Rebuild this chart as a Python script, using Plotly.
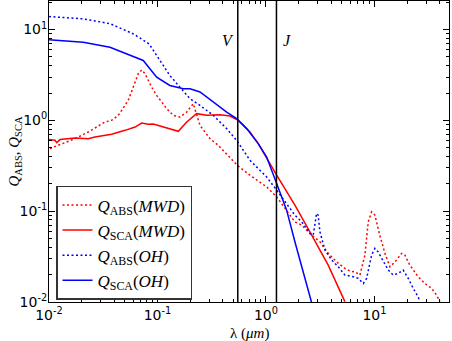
import math
import plotly.graph_objects as go

# ---- data (wavelength in micron, efficiency factors) ----
abs_oh_lam = [0.01, 0.0207, 0.0365, 0.0598, 0.0836, 0.1054, 0.130, 0.161, 0.1994, 0.2465, 0.3267,
              0.4345, 0.544, 0.712, 1.015, 1.255, 1.849, 2.133, 2.545, 2.73, 2.93, 3.03, 3.146,
              3.50, 4.03, 4.64, 5.34, 6.38, 7.10, 7.89, 8.47, 9.42, 10.1, 10.8, 12.05, 13.4,
              14.9, 16.6, 18.4, 20.5, 22.8, 25.3, 26.2]
abs_oh_q = [13.9, 13.1, 11.6, 8.97, 6.96, 4.56, 3.12, 2.32, 1.73, 1.46, 1.135,
            0.811, 0.588, 0.363, 0.238, 0.170, 0.0904, 0.0763, 0.0569, 0.0545, 0.0944, 0.0904, 0.0592,
            0.0373, 0.0290, 0.0244, 0.0198, 0.0190, 0.0182, 0.0160, 0.0182, 0.0328, 0.0389, 0.0357, 0.0277, 0.0225,
            0.0198, 0.0207, 0.0225, 0.0182, 0.0141, 0.0114, 0.0101]

sca_oh_lam = [0.01, 0.0207, 0.0365, 0.0558, 0.0739, 0.0983, 0.130, 0.173, 0.1994, 0.2465, 0.3267,
              0.4345, 0.537, 0.664, 0.849, 1.015, 1.255, 1.552, 1.849, 2.19, 2.64]
sca_oh_q = [7.7, 7.25, 6.39, 5.18, 4.56, 2.99, 2.42, 2.23, 2.23, 2.05, 1.59,
            1.234, 1.044, 0.811, 0.555, 0.395, 0.2016, 0.1026, 0.046, 0.0225, 0.0098]

sca_mwd_lam = [0.01, 0.01136, 0.01178, 0.01263, 0.01737, 0.0230, 0.0265, 0.0378, 0.0502, 0.0621,
               0.0715, 0.0822, 0.0914, 0.1131, 0.1556, 0.186, 0.2296, 0.284, 0.3767, 0.4656,
               0.556, 0.712, 0.849, 1.255, 1.849, 2.64, 3.75, 5.34]
sca_mwd_q = [0.614, 0.603, 0.569, 0.614, 0.639, 0.629, 0.655, 0.702, 0.776, 0.844,
             0.934, 0.904, 0.911, 0.844, 0.757, 0.958, 1.185, 1.135, 1.155, 1.115,
             1.0, 0.744, 0.555, 0.249, 0.1164, 0.0545, 0.0255, 0.0101]

abs_mwd_lam = [0.0102, 0.0131, 0.01737, 0.0230, 0.0328, 0.0378, 0.0436, 0.0538, 0.0598, 0.0665,
               0.0715, 0.0767, 0.0884, 0.0983, 0.1216, 0.140, 0.161, 0.186, 0.2138, 0.2465,
               0.305, 0.363, 0.544, 0.712, 1.015, 1.255, 1.849, 2.133, 2.64, 3.146, 3.75,
               4.48, 5.34, 5.94, 6.61, 7.35, 8.17, 8.77, 9.42, 10.1, 11.2, 12.5, 13.9,
               15.5, 17.8, 19.1, 21.2, 25.3, 29.2, 33.7, 37.4, 40.2]
abs_mwd_q = [0.489, 0.555, 0.629, 0.744, 0.958, 1.0, 1.135, 1.66, 2.32, 3.26,
             3.59, 3.26, 2.32, 1.88, 1.345, 1.135, 1.087, 1.234, 1.526, 0.881,
             0.629, 0.531, 0.320, 0.249, 0.185, 0.1436, 0.0763, 0.0702, 0.0545, 0.046, 0.0343,
             0.0277, 0.0235, 0.0219, 0.0215, 0.0198, 0.0328, 0.0763, 0.0982, 0.0904, 0.0545, 0.0343, 0.0244,
             0.0277, 0.0343, 0.0328, 0.0255, 0.019, 0.016, 0.0141, 0.0119, 0.0101]

band_lam = [0.55, 1.25]
band_names = ["V", "J"]
band_label_lam = [0.447, 1.56]
band_label_q = 7.6

x_tick_vals = [0.01, 0.1, 1, 10]
x_tick_text = ["10<sup>-2</sup>", "10<sup>-1</sup>", "10<sup>0</sup>", "10<sup>1</sup>"]
y_tick_vals = [0.01, 0.1, 1, 10]
y_tick_text = ["10<sup>-2</sup>", "10<sup>-1</sup>", "10<sup>0</sup>", "10<sup>1</sup>"]
decades = [0.01, 0.1, 1, 10]
minor_mult = [2, 3, 4, 5, 6, 7, 8, 9]

x_min, x_max = 0.01, 48.7
y_min, y_max = 0.01, 20.6

RED = "#ff0000"
BLUE = "#0000ff"
DOT = "2px,2.5px"

minor_vals = [d * m for d in decades for m in minor_mult]

fig = go.Figure()
fig.add_trace(go.Scatter(x=abs_mwd_lam, y=abs_mwd_q, mode="lines",
                         line=dict(color=RED, width=1.5, dash=DOT),
                         name="<i>Q</i><sub>ABS</sub>(<i>MWD</i>)"))
fig.add_trace(go.Scatter(x=sca_mwd_lam, y=sca_mwd_q, mode="lines",
                         line=dict(color=RED, width=1.5),
                         name="<i>Q</i><sub>SCA</sub>(<i>MWD</i>)"))
fig.add_trace(go.Scatter(x=abs_oh_lam, y=abs_oh_q, mode="lines",
                         line=dict(color=BLUE, width=1.5, dash=DOT),
                         name="<i>Q</i><sub>ABS</sub>(<i>OH</i>)"))
fig.add_trace(go.Scatter(x=sca_oh_lam, y=sca_oh_q, mode="lines",
                         line=dict(color=BLUE, width=1.5),
                         name="<i>Q</i><sub>SCA</sub>(<i>OH</i>)"))

for lam in band_lam:
    fig.add_trace(go.Scatter(x=[lam, lam], y=[y_min, y_max], mode="lines",
                             line=dict(color="black", width=1.5), showlegend=False,
                             hoverinfo="skip"))

for name, lx in zip(band_names, band_label_lam):
    fig.add_annotation(x=math.log10(lx), y=math.log10(band_label_q), text="<i>%s</i>" % name,
                       showarrow=False, font=dict(family="Liberation Serif", size=16, color="black"))

axis_common = dict(type="log", showgrid=False, zeroline=False, showline=True, linecolor="black",
                   linewidth=1, mirror="allticks", ticks="inside", ticklen=6, tickcolor="black",
                   automargin=False,
                   tickfont=dict(family="DejaVu Sans", size=14, color="black"),
                   minor=dict(ticks="inside", ticklen=3, tickcolor="black", showgrid=False,
                              tickmode="array", tickvals=minor_vals))

fig.update_xaxes(**axis_common, range=[math.log10(x_min), math.log10(x_max)],
                 tickmode="array", tickvals=x_tick_vals, ticktext=x_tick_text)
fig.update_yaxes(**axis_common, range=[math.log10(y_min), math.log10(y_max)],
                 tickmode="array", tickvals=y_tick_vals, ticktext=y_tick_text,
                 ticklabelstandoff=-2)

# axis titles
fig.add_annotation(xref="paper", yref="paper", x=0.5, y=-0.103, yanchor="middle",
                   text="λ (<i>μm</i>)", showarrow=False,
                   font=dict(family="Liberation Serif", size=15, color="black"))
fig.add_annotation(xref="paper", yref="paper", x=-0.0875, y=0.5, xanchor="center",
                   text="<i>Q</i><sub>ABS</sub>, <i>Q</i><sub>SCA</sub>", textangle=-90, showarrow=False,
                   font=dict(family="Liberation Serif", size=15, color="black"))

fig.update_layout(
    width=452, height=341,
    margin=dict(l=49, r=3, t=1, b=39),
    paper_bgcolor="white", plot_bgcolor="white",
    legend=dict(x=0.0175, y=0.007, xanchor="left", yanchor="bottom",
                bgcolor="white", bordercolor="#333333", borderwidth=1.5,
                font=dict(family="Liberation Serif", size=17, color="black"),
                itemwidth=30, tracegroupgap=0),
)

fig.write_html("out.html", config={"displayModeBar": False},
               post_script="document.body.style.margin='0';document.body.style.padding='0';")
